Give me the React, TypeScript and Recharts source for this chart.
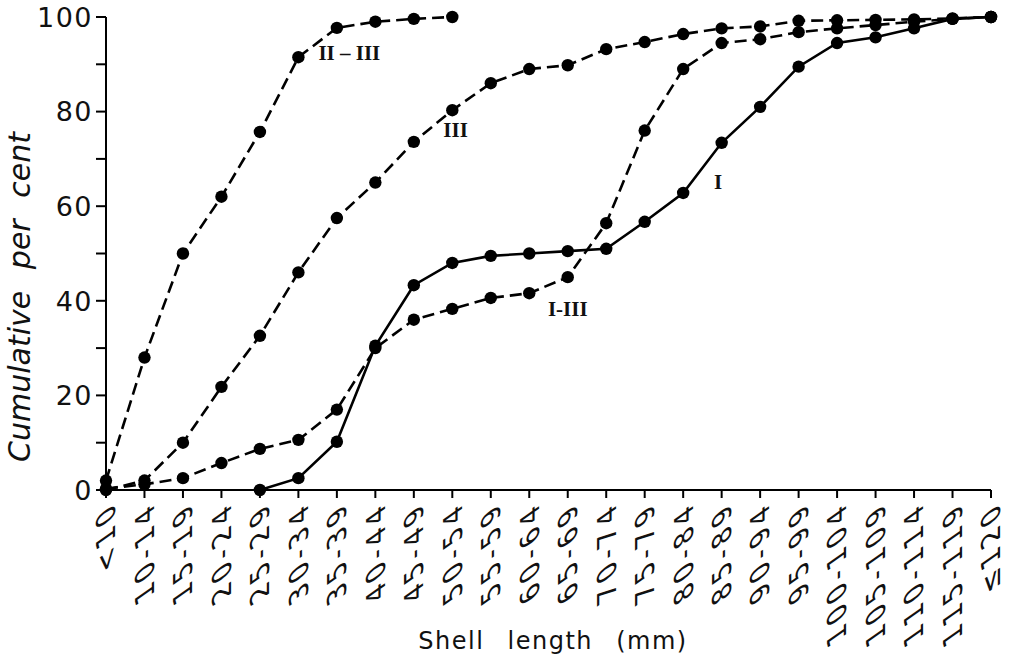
import React from 'react';
import { LineChart, Line, XAxis, YAxis, LabelList, Label } from 'recharts';

const categories = ['<10', '10-14', '15-19', '20-24', '25-29', '30-34', '35-39', '40-44', '45-49', '50-54', '55-59', '60-64', '65-69', '70-74', '75-79', '80-84', '85-89', '90-94', '95-99', '100-104', '105-109', '110-114', '115-119', '≤120'];
const seriesI: (number | null)[] = [null, null, null, null, 0, 2.5, 10.2, 30.5, 43.3, 48, 49.5, 50, 50.5, 51, 56.7, 62.8, 73.4, 81, 89.5, 94.5, 95.7, 97.6, 99.6, 100];
const seriesIIII: (number | null)[] = [0.3, 1.2, 2.5, 5.7, 8.7, 10.6, 17, 30, 36, 38.3, 40.6, 41.6, 45, 56.4, 76, 89, 94.5, 95.3, 96.8, 97.6, 98.3, 99, 99.6, 100];
const seriesIII: (number | null)[] = [0, 2, 10, 21.8, 32.6, 46, 57.5, 65, 73.6, 80.3, 86, 89, 89.8, 93.2, 94.7, 96.4, 97.6, 98, 99.2, 99.3, 99.4, 99.5, 99.7, 100];
const seriesIIIII: (number | null)[] = [2, 28, 50, 62, 75.7, 91.5, 97.7, 99, 99.6, 100, null, null, null, null, null, null, null, null, null, null, null, null, null, null];
const yTicks = [0, 10, 20, 30, 40, 50, 60, 70, 80, 90, 100];

const data = categories.map((c, i) => ({
  cat: c,
  I: seriesI[i],
  IIII: seriesIIII[i],
  III: seriesIII[i],
  IIIII: seriesIIIII[i],
}));

const SANS = '"DejaVu Sans", sans-serif';
const SERIF = '"Liberation Serif", "DejaVu Serif", serif';

const XTick = (props: any) => {
  const { x, y, payload } = props;
  return (
    <g transform={`translate(${x},${y + 4}) skewY(-35) rotate(-90)`}>
      <text x={0} y={0} dy="0.36em" textAnchor="end" fontFamily={SANS} fontSize={26} letterSpacing={4.5} fill="#111">
        {payload.value}
      </text>
    </g>
  );
};

const YTick = (props: any) => {
  const { x, y, payload } = props;
  if (payload.value % 20 !== 0) return null;
  return (
    <text x={x - 1} y={y} dy="0.36em" textAnchor="end" fontFamily={SANS} fontSize={27} letterSpacing={1.5} fill="#111">
      {payload.value}
    </text>
  );
};

const makeLabel = (text: string, idx: number, dx: number, dy: number, anchor: string) => (p: any) => {
  if (p.index !== idx) return null;
  return (
    <text x={p.x + dx} y={p.y + dy} textAnchor={anchor} fontFamily={SERIF} fontWeight="bold" fontSize={21} fill="#111">
      {text}
    </text>
  );
};

const dot = { r: 6.2, fill: '#000', stroke: '#000', strokeWidth: 0 };

export default function App() {
  return (
    <div style={{ position: 'absolute', left: 0, top: 0, background: '#fff' }}>
      <LineChart width={1012} height={662} data={data} margin={{ top: 17, right: 21, bottom: 0, left: 0 }}>
        <XAxis
          dataKey="cat"
          interval={0}
          tickSize={8}
          height={172}
          tick={<XTick />}
          axisLine={{ stroke: '#000', strokeWidth: 2 }}
          tickLine={{ stroke: '#000', strokeWidth: 2 }}
        >
          <Label
            content={() => (
              <text x={553} y={649} textAnchor="middle" fontFamily={SANS} fontSize={24} letterSpacing={1.5} wordSpacing={14} fill="#111">
                Shell length (mm)
              </text>
            )}
          />
        </XAxis>
        <YAxis
          type="number"
          domain={[0, 100]}
          ticks={yTicks}
          width={106}
          tickSize={10}
          tick={<YTick />}
          axisLine={{ stroke: '#000', strokeWidth: 2 }}
          tickLine={{ stroke: '#000', strokeWidth: 2 }}
        >
          <Label
            content={() => (
              <text
                transform="translate(30,297) rotate(-90)"
                textAnchor="middle"
                fontFamily={SANS}
                fontStyle="italic"
                fontSize={30}
                wordSpacing={12}
                fill="#111"
              >
                Cumulative per cent
              </text>
            )}
          />
        </YAxis>
        <Line dataKey="IIIII" stroke="#000" strokeWidth={2.6} strokeDasharray="12 6" dot={dot} isAnimationActive={false} connectNulls={false}>
          <LabelList dataKey="IIIII" content={makeLabel('II – III', 5, 20, 3, 'start')} />
        </Line>
        <Line dataKey="III" stroke="#000" strokeWidth={2.6} strokeDasharray="12 6" dot={dot} isAnimationActive={false}>
          <LabelList dataKey="III" content={makeLabel('III', 9, -9, 27, 'start')} />
        </Line>
        <Line dataKey="IIII" stroke="#000" strokeWidth={2.6} strokeDasharray="12 6" dot={dot} isAnimationActive={false}>
          <LabelList dataKey="IIII" content={makeLabel('I-III', 12, 0, 39, 'middle')} />
        </Line>
        <Line dataKey="I" stroke="#000" strokeWidth={2.6} dot={dot} isAnimationActive={false} connectNulls={false}>
          <LabelList dataKey="I" content={makeLabel('I', 15, 35, -4, 'middle')} />
        </Line>
      </LineChart>
    </div>
  );
}
